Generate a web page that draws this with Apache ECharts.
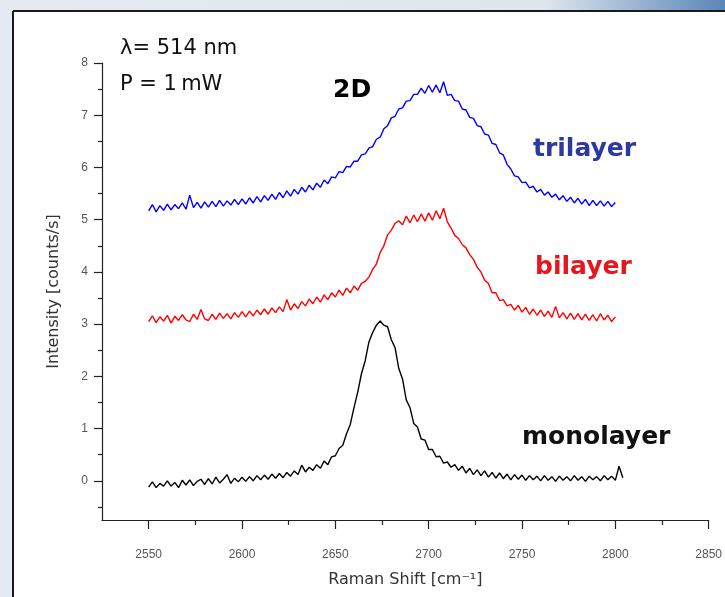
<!DOCTYPE html>
<html>
<head>
<meta charset="utf-8">
<script src="https://cdn.jsdelivr.net/npm/echarts@6/dist/echarts.min.js"></script>
<style>html,body{margin:0;padding:0;background:#e3eaf1;}#c{width:725px;height:597px;}</style>
</head>
<body>
<div id="c"></div>
<script>
// Raman shift sampling grid (cm^-1)
const ramanShift = [2550,2552,2554,2556,2558,2560,2562,2564,2566,2568,2570,2572,2574,2576,2578,2580,2582,2584,2586,2588,2590,2592,2594,2596,2598,2600,2602,2604,2606,2608,2610,2612,2614,2616,2618,2620,2622,2624,2626,2628,2630,2632,2634,2636,2638,2640,2642,2644,2646,2648,2650,2652,2654,2656,2658,2660,2662,2664,2666,2668,2670,2672,2674,2676,2678,2680,2682,2684,2686,2688,2690,2692,2694,2696,2698,2700,2702,2704,2706,2708,2710,2712,2714,2716,2718,2720,2722,2724,2726,2728,2730,2732,2734,2736,2738,2740,2742,2744,2746,2748,2750,2752,2754,2756,2758,2760,2762,2764,2766,2768,2770,2772,2774,2776,2778,2780,2782,2784,2786,2788,2790,2792,2794,2796,2798,2800,2802,2804];

const monolayer = [-0.12,-0.02,-0.13,-0.05,-0.10,0.00,-0.10,-0.03,-0.13,0.01,-0.08,0.02,-0.09,-0.01,0.03,-0.07,0.04,-0.06,0.07,-0.04,0.03,0.12,-0.05,0.05,-0.02,0.07,-0.01,0.08,0.00,0.10,0.02,0.11,0.03,0.13,0.05,0.14,0.06,0.16,0.09,0.19,0.12,0.30,0.17,0.26,0.20,0.31,0.24,0.38,0.31,0.46,
  0.48,0.62,0.68,0.90,1.08,1.40,1.70,2.05,2.30,2.66,2.84,2.98,3.06,2.98,2.95,2.70,2.55,2.15,1.95,1.55,1.40,1.10,1.03,0.80,0.78,0.60,0.60,0.46,0.47,0.34,
  0.36,0.26,0.31,0.20,0.28,0.15,0.24,0.12,0.21,0.10,0.19,0.07,0.16,0.05,0.15,0.04,0.13,0.02,0.12,0.03,0.11,0.01,0.10,0.02,0.09,0.00,0.10,0.01,0.08,-0.01,0.09,0.01,0.08,0.00,0.10,0.01,0.08,-0.01,0.09,0.02,0.08,0.00,0.10,0.02,0.09,0.01,0.28,0.06];

const bilayer = [3.05,3.16,3.03,3.14,3.06,3.17,3.02,3.15,3.07,3.18,3.08,3.05,3.19,3.09,3.28,3.10,3.07,3.19,3.09,3.21,3.11,3.20,3.10,3.22,3.13,3.24,3.14,3.25,3.16,3.27,3.18,3.29,3.19,3.31,3.22,3.33,3.24,3.47,3.27,3.39,3.30,3.43,3.35,3.48,3.39,3.52,3.42,3.56,3.47,3.60,3.52,3.65,3.55,3.69,3.60,3.73,3.65,3.78,3.82,
  3.90,4.05,4.15,4.37,4.50,4.71,4.80,4.93,4.98,4.90,5.07,4.94,5.09,4.96,5.11,4.97,5.13,4.99,5.17,5.02,5.22,
  4.96,4.84,4.70,4.64,4.52,4.46,4.33,4.24,4.09,4.00,3.84,3.78,3.60,3.60,3.45,3.47,3.35,3.38,3.27,3.36,3.23,3.32,3.19,3.29,3.17,3.27,3.15,3.25,3.13,3.34,3.12,3.22,3.10,3.21,3.09,3.20,3.08,3.19,3.07,3.18,3.06,3.20,3.08,3.17,3.05,3.14];

const trilayer = [5.17,5.29,5.15,5.27,5.18,5.30,5.19,5.29,5.21,5.32,5.20,5.47,5.23,5.33,5.22,5.34,5.24,5.35,5.25,5.37,5.26,5.36,5.28,5.39,5.29,5.40,5.30,5.42,5.32,5.44,5.34,5.46,5.37,5.49,5.39,5.52,5.42,5.55,5.45,5.58,5.49,5.62,5.53,5.66,5.57,5.70,5.62,5.76,5.69,5.82,
  5.80,5.92,5.90,6.02,6.01,6.12,6.12,6.24,6.26,6.37,6.40,6.54,6.58,6.74,6.80,6.95,6.98,7.12,7.14,7.27,7.28,7.40,7.40,7.52,7.42,7.57,7.44,7.58,7.43,7.64,
  7.38,7.40,7.28,7.27,7.12,7.10,6.96,6.94,6.80,6.78,6.64,6.62,6.46,6.44,6.28,6.24,6.06,5.97,5.84,5.82,5.71,5.72,5.61,5.64,5.53,5.58,5.47,5.53,5.43,5.49,5.38,5.46,5.35,5.43,5.32,5.41,5.30,5.39,5.27,5.37,5.27,5.36,5.26,5.35,5.25,5.33];

const xMajorTicks = [2550,2600,2650,2700,2750,2800,2850];
const xMinorTicks = [2575,2625,2675,2725,2775,2825];
const yMajorTicks = [0,1,2,3,4,5,6,7,8];
const yMinorTicks = [-0.5,0.5,1.5,2.5,3.5,4.5,5.5,6.5,7.5];

function pairs(ys){ return ys.map((v,i)=>[ramanShift[i], v]); }

const chart = echarts.init(document.getElementById('c'), null, {renderer:'canvas'});
const axisColor = '#222';
const labelStyle = {color:'#555', fontFamily:'Liberation Sans, Arial, sans-serif', fontSize:12};
const nameFont = {color:'#333', fontFamily:'DejaVu Sans, sans-serif', fontSize:16};
const option = {
  animation:false,
  backgroundColor:'#e3eaf1',
  grid:{left:102, right:15, top:63, bottom:77, containLabel:false},
  xAxis:[{
    type:'value', min:2525, max:2850,
    axisLine:{show:true, onZero:false, lineStyle:{color:axisColor, width:1.2}},
    axisTick:{show:true, length:9, customValues:xMajorTicks, lineStyle:{color:axisColor, width:1.2}},
    axisLabel:{show:true, margin:29, customValues:xMajorTicks, formatter:v=>String(v), ...labelStyle},
    splitLine:{show:false},
    name:'Raman Shift [cm\u207B\u00B9]', nameLocation:'middle', nameGap:52,
    nameTextStyle:nameFont
  },{
    type:'value', min:2525, max:2850, position:'bottom',
    axisLine:{show:false, onZero:false}, axisLabel:{show:false}, splitLine:{show:false},
    axisTick:{show:true, length:5, customValues:xMinorTicks, lineStyle:{color:axisColor, width:1.2}}
  }],
  yAxis:[{
    type:'value', min:-0.75, max:8,
    axisLine:{show:true, onZero:false, lineStyle:{color:axisColor, width:1.2}},
    axisTick:{show:true, length:8, customValues:yMajorTicks, lineStyle:{color:axisColor, width:1.2}},
    axisLabel:{show:true, margin:14, customValues:yMajorTicks, formatter:v=>String(v), ...labelStyle},
    splitLine:{show:false},
    name:'Intensity [counts/s]', nameLocation:'middle', nameGap:40, nameRotate:90,
    nameTextStyle:nameFont
  },{
    type:'value', min:-0.75, max:8, position:'left',
    axisLine:{show:false, onZero:false}, axisLabel:{show:false}, splitLine:{show:false},
    axisTick:{show:true, length:4, customValues:yMinorTicks, lineStyle:{color:axisColor, width:1.2}}
  }],
  series:[
    {name:'trilayer', type:'line', showSymbol:false, data:pairs(trilayer), lineStyle:{color:'#0000ff', width:1.4}, itemStyle:{color:'#0000ff'}, z:3},
    {name:'bilayer', type:'line', showSymbol:false, data:pairs(bilayer), lineStyle:{color:'#ff0000', width:1.4}, itemStyle:{color:'#ff0000'}, z:3},
    {name:'monolayer', type:'line', showSymbol:false, data:pairs(monolayer), lineStyle:{color:'#000000', width:1.4}, itemStyle:{color:'#000'}, z:3}
  ],
  graphic:{elements:[
    {type:'rect', z:-10, silent:true, shape:{x:0,y:0,width:725,height:10}, style:{fill:new echarts.graphic.LinearGradient(0,0,1,0,[{offset:0,color:'#e4eaf0'},{offset:0.75,color:'#dfe6ee'},{offset:1,color:'#5b86b8'}])}},
    {type:'rect', z:-9, silent:true, shape:{x:13,y:11,width:712,height:586}, style:{fill:'#ffffff'}},
    {type:'line', z:-8, silent:true, shape:{x1:13,y1:11,x2:725,y2:11}, style:{stroke:'#1a1a1a', lineWidth:2}},
    {type:'line', z:-8, silent:true, shape:{x1:13,y1:11,x2:13,y2:597}, style:{stroke:'#1a1a1a', lineWidth:2}},
    {type:'text', z:10, left:120, top:38, style:{text:'\u03BB= 514 nm', fill:'#111', font:'21px "DejaVu Sans", sans-serif'}},
    {type:'text', z:10, left:120, top:74, style:{text:'P = 1\u2009mW', fill:'#111', font:'21px "DejaVu Sans", sans-serif'}},
    {type:'text', z:10, left:333, top:78, style:{text:'2D', fill:'#000', font:'bold 25px "DejaVu Sans", sans-serif'}},
    {type:'text', z:10, left:533, top:137, style:{text:'trilayer', fill:'#2b3a9e', font:'bold 25px "DejaVu Sans", sans-serif'}},
    {type:'text', z:10, left:535, top:255, style:{text:'bilayer', fill:'#e8161c', font:'bold 25px "DejaVu Sans", sans-serif'}},
    {type:'text', z:10, left:522, top:425, style:{text:'monolayer', fill:'#111', font:'bold 25px "DejaVu Sans", sans-serif'}}
  ]}
};
chart.setOption(option);
</script>
</body>
</html>
